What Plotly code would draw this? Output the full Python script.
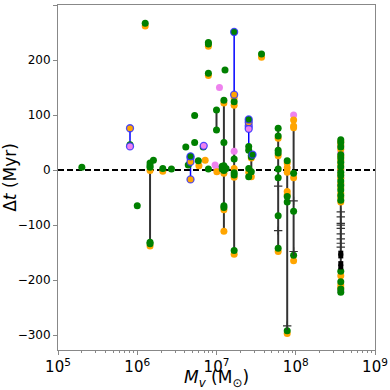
import plotly.graph_objects as go

# halo mass (Msun) and time offset (Myr) for each run, split by colour
green_mass = [2.0e5, 8.1e5, 1.0e6, 1.26e6, 1.45e6, 1.45e6, 1.45e6, 1.45e6, 1.45e6,
              1.6e6, 2.1e6, 2.7e6, 4.1e6, 5.3e6, 5.3e6, 4.4e6, 5.9e6, 6.8e6,
              7.9e6, 7.9e6, 7.9e6, 7.9e6, 1.0e7, 1.0e7, 1.18e7, 1.18e7, 1.28e7,
              1.24e7, 1.24e7, 1.24e7, 1.24e7, 1.24e7, 1.24e7, 1.32e7,
              1.67e7, 1.67e7, 1.67e7, 1.67e7, 1.67e7, 3.7e7,
              2.55e7, 2.55e7, 2.55e7, 2.55e7, 2.75e7, 2.75e7, 2.75e7,
              6.0e7, 6.0e7, 6.0e7, 6.0e7, 6.0e7, 6.0e7, 6.0e7, 6.0e7,
              7.8e7, 7.8e7, 7.8e7, 7.8e7, 9.4e7, 9.4e7, 9.4e7,
              3.7e8, 3.7e8, 3.7e8, 3.7e8, 3.7e8, 3.7e8, 3.7e8, 3.7e8, 3.7e8,
              3.7e8, 3.7e8, 3.7e8, 3.7e8, 3.7e8, 3.7e8, 3.7e8, 3.7e8, 3.7e8]
green_dt = [5, 46, -65, 267, 13, 8, 5, -131, -134,
            18, 3, 2, 42, 99, 50, 9, 17, 42,
            232, 229, 176, 2, 109, 73, 7, 2, 182,
            127, 50, 8, -1, -65, -68, 3,
            124, 20, -5, -9, -146, 211,
            43, 36, 3, -12, 27, 24, -3,
            76, 62, 36, 31, 2, -14, -83, -142,
            17, -48, -58, -292, -6, -75, -155,
            55, 50, 42, 28, 22, 14, 6, -4, -10,
            -20, -28, -36, -46, -55, -184, -203, -216, -222]

orange_mass = [1.26e6, 1.45e6, 1.45e6, 2.1e6, 6.0e6, 7.2e6, 7.9e6, 7.9e6, 1.01e7,
               1.24e7, 1.24e7, 1.24e7, 1.24e7, 1.67e7, 1.67e7, 1.67e7, 1.67e7, 1.67e7,
               3.7e7, 2.55e7, 2.55e7, 2.75e7, 2.75e7, 6.0e7, 6.0e7, 6.0e7,
               7.8e7, 7.8e7, 7.8e7, 7.8e7, 7.8e7, 7.8e7,
               9.4e7, 9.4e7, 9.4e7, 9.4e7, 9.4e7,
               3.7e8, 3.7e8, 3.7e8, 3.7e8, 3.7e8, 3.7e8, 3.7e8, 3.7e8, 3.7e8,
               3.7e8, 3.7e8, 3.7e8, 3.7e8, 3.7e8, 3.7e8, 3.7e8, 3.7e8]
orange_dt = [262, -1, -138, -2, 8, 18, 225, 172, -3,
             122, -6, -72, -111, 131, 118, 3, -13, -153,
             205, 84, -4, 22, -12, 58, 26, -148,
             13, 4, -4, -39, -45, -297,
             91, 80, 77, -14, -165,
             52, 46, 38, 25, 18, 10, 2, -7, -15,
             -24, -32, -42, -50, -58, -192, -209, -214]

violet_mass = [1.09e7, 9.6e6, 1.01e7, 1.67e7, 9.4e7,
               3.7e8, 3.7e8, 3.7e8, 3.7e8, 3.7e8, 3.7e8]
violet_dt = [150, 9, 3, 34, 100,
             44, 32, 0, -14, -26, -219]

# runs drawn with a blue ring
ringed_green_mass = [4.7e6, 1.67e7, 2.55e7, 2.85e7]
ringed_green_dt = [25, 251, 92, 28]
ringed_orange_mass = [8.1e5, 4.7e6, 4.7e6, 1.67e7, 2.55e7]
ringed_orange_dt = [76, 15, -17, 137, 87]
ringed_violet_mass = [8.1e5, 4.7e6, 6.9e6, 2.55e7, 2.55e7]
ringed_violet_dt = [43, 22, 44, 80, 75]

# vertical ranges
black_span_mass = [1.45e6, 1.0e7, 1.24e7, 1.67e7, 2.75e7, 6.0e7, 7.8e7, 9.4e7, 3.7e8]
black_span_lo = [-138, 73, -111, -153, -12, -148, -297, -165, -222]
black_span_hi = [0, 109, 127, 137, 27, 76, 17, 100, 55]
blue_span_mass = [8.1e5, 4.7e6, 1.67e7, 2.55e7]
blue_span_lo = [43, -17, 137, 42]
blue_span_hi = [76, 25, 251, 92]

plus_mass = [6.0e7, 6.0e7, 7.8e7, 9.4e7, 9.4e7,
             3.7e8, 3.7e8, 3.7e8, 3.7e8, 3.7e8, 3.7e8, 3.7e8, 3.7e8, 3.7e8]
plus_dt = [-29, -110, -283, -56, -148,
           -76, -85, -97, -100, -106, -116, -125, -133, -140]
square_mass = [3.7e8, 3.7e8, 3.7e8, 3.7e8]
square_dt = [-151, -156, -170, -176]

x_range = [1e5, 1e9]


def spans(mass, lo, hi):
    xs, ys = [], []
    for m, a, b in zip(mass, lo, hi):
        xs += [m, m, None]
        ys += [a, b, None]
    return xs, ys


fig = go.Figure()

fig.add_trace(go.Scatter(x=x_range, y=[0, 0], mode="lines",
                         line=dict(color="black", width=2, dash="6px,3px")))

bx, by = spans(black_span_mass, black_span_lo, black_span_hi)
fig.add_trace(go.Scatter(x=bx, y=by, mode="lines", line=dict(color="rgba(0,0,0,0.8)", width=2)))
ux, uy = spans(blue_span_mass, blue_span_lo, blue_span_hi)
fig.add_trace(go.Scatter(x=ux, y=uy, mode="lines", line=dict(color="blue", width=1.5)))

# violet first so the dense column mostly shows green/orange, as in the original
fig.add_trace(go.Scatter(x=violet_mass, y=violet_dt, mode="markers",
                         marker=dict(color="violet", size=7, line=dict(width=0))))
fig.add_trace(go.Scatter(x=orange_mass, y=orange_dt, mode="markers",
                         marker=dict(color="orange", size=7, line=dict(width=0))))
fig.add_trace(go.Scatter(x=green_mass, y=green_dt, mode="markers",
                         marker=dict(color="green", size=7, line=dict(width=0))))

ring = dict(color="rgba(50,50,255,0.85)", width=1.3)
fig.add_trace(go.Scatter(x=ringed_violet_mass, y=ringed_violet_dt, mode="markers",
                         marker=dict(color="violet", size=7, line=ring)))
fig.add_trace(go.Scatter(x=ringed_orange_mass, y=ringed_orange_dt, mode="markers",
                         marker=dict(color="orange", size=7, line=ring)))
fig.add_trace(go.Scatter(x=ringed_green_mass, y=ringed_green_dt, mode="markers",
                         marker=dict(color="green", size=7, line=ring)))

fig.add_trace(go.Scatter(x=plus_mass, y=plus_dt, mode="markers",
                         marker=dict(symbol="cross-thin", size=6, line=dict(color="#333", width=1.2))))
fig.add_trace(go.Scatter(x=square_mass, y=square_dt, mode="markers",
                         marker=dict(symbol="square", size=5, color="black")))

axis_style = dict(showline=True, linecolor="#888", linewidth=1, mirror=True,
                  ticks="outside", ticklen=4, tickcolor="#888", showgrid=False,
                  zeroline=False, automargin=False, tickfont=dict(size=12, color="black"))

fig.update_layout(
    width=390, height=390,
    margin=dict(l=58, r=15, t=5, b=40),
    paper_bgcolor="white", plot_bgcolor="white",
    showlegend=False,
    font=dict(family="DejaVu Sans", color="black"),
    xaxis=dict(type="log", range=[5, 9], dtick=1, exponentformat="power",
               title=dict(text="<i>M<sub>v</sub></i> (M<sub>⊙</sub>)", font=dict(size=17), standoff=0),
               minor=dict(ticks="outside", ticklen=2, tickcolor="#888", dtick="D1"),
               **axis_style),
    yaxis=dict(range=[-327, 300], dtick=100,
               title=dict(text="Δ<i>t</i> (Myr)", font=dict(size=17), standoff=9),
               **axis_style),
)

# the page's default body margin would shift the figure by 8px
fig.write_html("out.html", config={"displayModeBar": False},
               post_script="document.body.style.margin='0';")
